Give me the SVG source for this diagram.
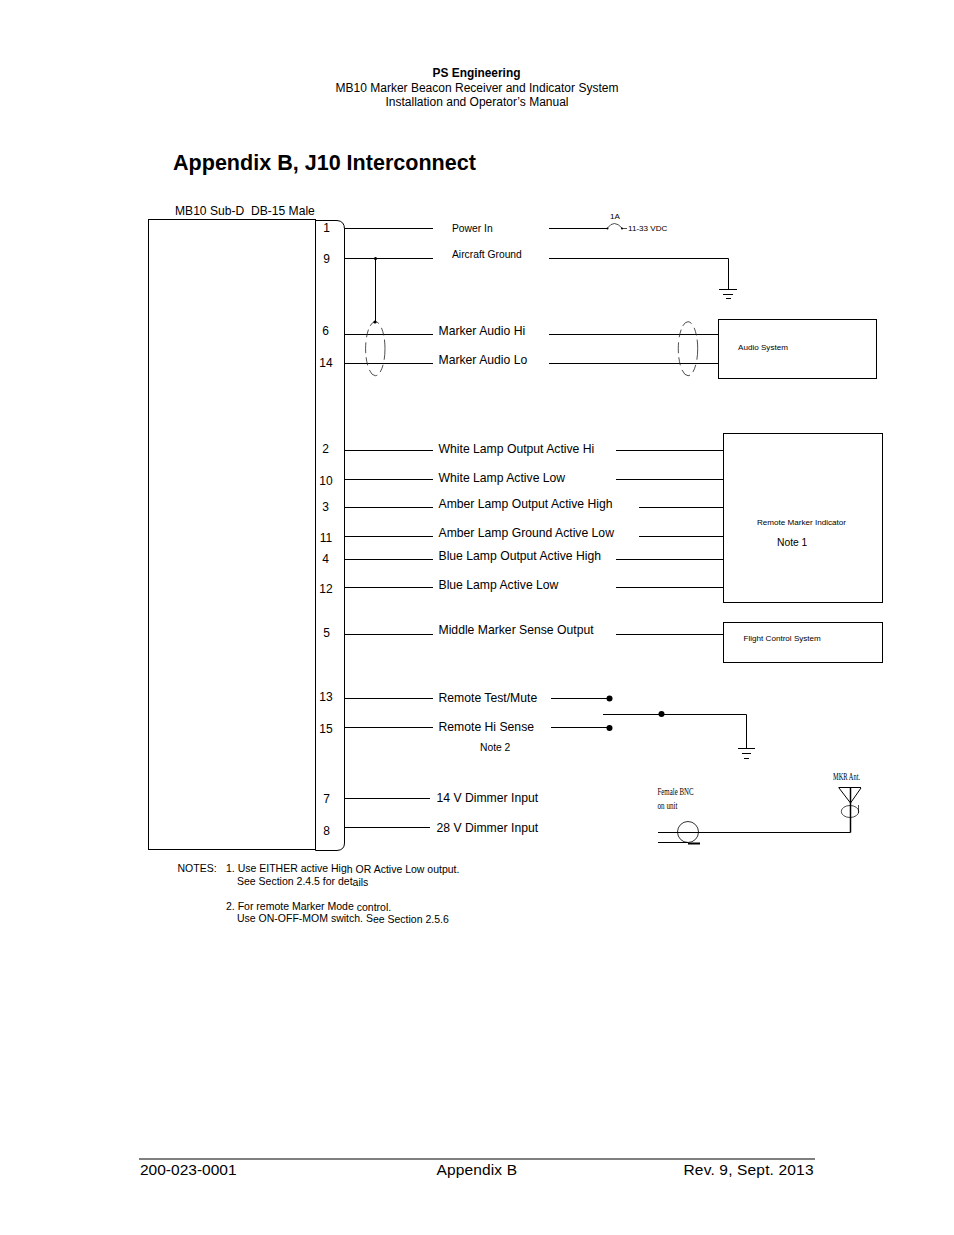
<svg xmlns="http://www.w3.org/2000/svg" width="954" height="1235" viewBox="0 0 954 1235">
<style>
text{font-family:"Liberation Sans",Arial,sans-serif;fill:#000}
.h{font-size:12.2px}.p{font-size:12px}.n{font-size:10.3px}.s{font-size:8.1px}
.f{font-size:15.5px}
.t{font-family:"Liberation Serif","Times New Roman",serif;font-size:10.5px}
.w{stroke:#000;stroke-width:1;fill:none}
.d{stroke:#222;stroke-width:.8;fill:none;stroke-dasharray:11 5 8 4}
.b{stroke:#000;stroke-width:1;fill:#fff}
</style>
<rect width="954" height="1235" fill="#fff"/>
<g id="header">
<text x="476.500" y="77" text-anchor="middle" font-weight="bold" style="font-size:11.9px">PS Engineering</text>
<text x="477" y="92" text-anchor="middle" style="font-size:12px">MB10 Marker Beacon Receiver and Indicator System</text>
<text x="477" y="106" text-anchor="middle" style="font-size:12px">Installation and Operator’s Manual</text>
<text x="173" y="170" font-weight="bold" style="font-size:21.55px">Appendix B, J10 Interconnect</text>
</g>
<g id="connectors">
<path class="w" d="M345 228.500H433M345 258.500H433M345 334.500H433M345 363.500H433M345 450.500H433M345 479.500H433M345 507.500H433M345 536.500H433M345 559.500H433M345 587.500H433M345 634.500H433M345 698.500H433M345 727.500H433M345 798.500H430M345 827.500H430"/>
<path class="w" d="M549 228.500H607M549 258.500H728.500V289M549 334.500H719M549 363.500H719"/>
<path class="w" d="M616 450.500H723M616 479.500H723M639 507.500H723M639 536.500H723M616 559.500H723M616 587.500H723M616 634.500H723"/>
<path class="w" d="M551 698.500H609M551 727.500H609M603 714.500H746.500V748"/>
<path class="w" d="M375.500 258.500V322"/>
<path class="w" d="M658 832.500H850.500M658 842.500H688"/>
<path d="M850.500 832.500V787" stroke="#000" stroke-width="1.500" fill="none"/>
</g>
<g id="mb10-connector">
<rect class="b" x="148.500" y="219.500" width="167" height="630"/>
<path class="b" d="M315.500 220.500H337Q344.500 221 344.500 229V843Q344.500 850 337 850.500H315.500Z"/>
<text x="175" y="215" style="font-size:12.1px;white-space:pre" xml:space="preserve">MB10 Sub-D  DB-15 Male</text>
<g class="p" text-anchor="middle">
<text x="326.500" y="232">1</text><text x="326.500" y="263">9</text><text x="325.500" y="335">6</text><text x="326" y="367">14</text>
<text x="325.500" y="453">2</text><text x="326" y="485">10</text><text x="325.500" y="511">3</text><text x="326" y="542">11</text>
<text x="325.500" y="563">4</text><text x="326" y="593">12</text><text x="326.500" y="637">5</text><text x="326" y="701">13</text>
<text x="326" y="733">15</text><text x="326.500" y="803">7</text><text x="326.500" y="835">8</text>
</g>
</g>
<g id="shield-left">
<ellipse class="d" cx="375.300" cy="348.700" rx="9.700" ry="27"/>
<circle cx="375.500" cy="258.500" r="1.600"/><circle cx="375" cy="322" r="1.600"/>
</g>
<g id="shield-right"><ellipse class="d" cx="688" cy="348.700" rx="9.700" ry="27"/></g>
<g id="labels">
<text x="452" y="232" class="n">Power In</text>
<text x="452" y="258" class="n">Aircraft Ground</text>
<g class="h">
<text x="438.500" y="335">Marker Audio Hi</text>
<text x="438.500" y="364">Marker Audio Lo</text>
<text x="438.500" y="453">White Lamp Output Active Hi</text>
<text x="438.500" y="482">White Lamp Active Low</text>
<text x="438.500" y="508">Amber Lamp Output Active High</text>
<text x="438.500" y="537">Amber Lamp Ground Active Low</text>
<text x="438.500" y="560">Blue Lamp Output Active High</text>
<text x="438.500" y="589">Blue Lamp Active Low</text>
<text x="438.500" y="634">Middle Marker Sense Output</text>
<text x="438.500" y="702">Remote Test/Mute</text>
<text x="438.500" y="731">Remote Hi Sense</text>
<text x="436.500" y="802">14 V Dimmer Input</text>
<text x="436.500" y="832">28 V Dimmer Input</text>
</g>
<text x="480" y="751" class="n">Note 2</text>
</g>
<g id="fuse">
<path class="w" d="M607.500 228Q614 219 622 228" style="stroke-width:.7"/>
<circle cx="607.500" cy="228.500" r="1"/><circle cx="622" cy="228.500" r="1"/>
<path class="w" d="M622 228.500H627" style="stroke-width:.7"/>
<text x="610" y="219" class="s">1A</text>
<text x="628" y="231" class="s">11-33 VDC</text>
</g>
<g id="ground-1"><path class="w" d="M719 289.500H737M723 294.500H733M726 298.500H731"/></g>
<g id="audio-system">
<rect class="b" x="718.500" y="319.500" width="158" height="59"/>
<text x="738" y="350" class="s">Audio System</text>
</g>
<g id="remote-marker-indicator">
<rect class="b" x="723.500" y="433.500" width="159" height="169"/>
<text x="757" y="525" class="s">Remote Marker Indicator</text>
<text x="777" y="546" class="n">Note 1</text>
</g>
<g id="flight-control-system">
<rect class="b" x="723.500" y="622.500" width="159" height="40"/>
<text x="743.500" y="641" class="s">Flight Control System</text>
</g>
<g id="switch">
<circle cx="609.500" cy="698.500" r="3"/><circle cx="609.500" cy="728" r="3"/><circle cx="661.500" cy="714" r="3"/>
<path class="w" d="M738 748.500H755M742 753.500H751M744 758.500H749"/>
</g>
<g id="bnc">
<circle cx="688" cy="832" r="10.500" fill="none" stroke="#000" stroke-width=".8"/>
<path d="M688 843.500H700" stroke="#000" stroke-width="2"/>
<text x="657.500" y="795" class="t" textLength="36" lengthAdjust="spacingAndGlyphs">Female BNC</text>
<text x="657.500" y="809" class="t" textLength="20" lengthAdjust="spacingAndGlyphs">on unit</text>
</g>
<g id="antenna">
<path class="w" d="M838.500 787.500H861M839 788L850.500 803L861 788"/>
<ellipse cx="850" cy="811.500" rx="8.700" ry="6" fill="none" stroke="#000" stroke-width=".7"/>
<path class="w" d="M858.500 805V813" style="stroke-width:.7"/>
<text x="833" y="780" class="t" textLength="27" lengthAdjust="spacingAndGlyphs">MKR Ant.</text>
</g>
<g id="notes" style="font-size:10.500px">
<text x="177.500" y="872">NOTES:</text>
<text x="226" y="872">1. Use EITHER active Hig<tspan dy="1">h OR Active Low output.</tspan></text>
<text x="237" y="885">See Section 2.4.5 for det<tspan dy="1">ails</tspan></text>
<text x="226" y="910">2. For remote Marker Mode <tspan dy="1">control.</tspan></text>
<text x="237" y="922">Use ON-OFF-MOM switch. S<tspan dy="1">ee Section 2.5.6</tspan></text>
</g>
<g id="footer">
<path d="M139 1159H815" stroke="#000" stroke-width="1"/>
<text x="140" y="1175" class="f">200-023-0001</text>
<text x="436.500" y="1175" class="f" textLength="80.500">Appendix B</text>
<text x="683.500" y="1175" class="f" textLength="130">Rev. 9, Sept. 2013</text>
</g>
</svg>
